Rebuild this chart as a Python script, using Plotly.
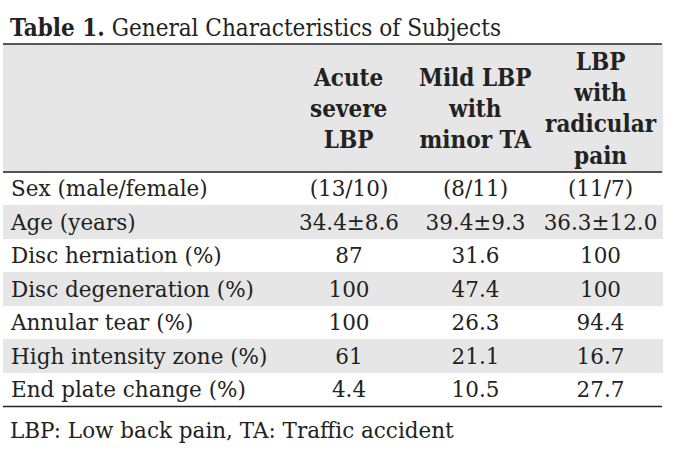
import plotly.graph_objects as go

# table content
row_labels = ["Sex (male/female)", "Age (years)", "Disc herniation (%)",
              "Disc degeneration (%)", "Annular tear (%)",
              "High intensity zone (%)", "End plate change (%)"]
acute_severe = ["(13/10)", "34.4±8.6", "87", "100", "100", "61", "4.4"]
mild_minor_ta = ["(8/11)", "39.4±9.3", "31.6", "47.4", "26.3", "21.1", "10.5"]
radicular = ["(11/7)", "36.3±12.0", "100", "100", "94.4", "16.7", "27.7"]
group_names = ["Acute<br>severe<br>LBP", "Mild LBP<br>with<br>minor TA",
               "LBP<br>with<br>radicular<br>pain"]

title = "<b>Table 1.</b> General Characteristics of Subjects"
footnote = "LBP: Low back pain, TA: Traffic accident"

W, H = 684, 463
left, top = 3, 44
col_widths = [283, 126, 127, 123]
header_h = 128
row_h = 33.5
gray = "#e6e6e6"
ink = "#222222"
serif = "DejaVu Serif"

right = left + sum(col_widths)
table_bottom = top + header_h + row_h * len(row_labels)

row_fill = ["white" if i % 2 == 0 else gray for i in range(len(row_labels))]

fig = go.Figure(go.Table(
    domain=dict(x=[left / W, right / W], y=[0.02, 1 - top / H]),
    columnwidth=col_widths,
    header=dict(values=["", "", "", ""], height=header_h,
                fill_color=gray, line_color=gray,
                font=dict(family=serif, size=20, color=ink)),
    cells=dict(values=[row_labels, acute_severe, mild_minor_ta, radicular],
               height=row_h,
               align=["left", "center", "center", "center"],
               fill_color=[row_fill] * 4, line_color=[row_fill] * 4,
               font=dict(family=serif, size=21.5, color=ink)),
))

# group headers, centred in the header band of each column
x0 = left + col_widths[0]
for name, w in zip(group_names, col_widths[1:]):
    fig.add_annotation(x=(x0 + w / 2) / W, y=1 - (top + header_h / 2) / H,
                       xref="paper", yref="paper", text="<b>" + name + "</b>",
                       showarrow=False, xanchor="center", yanchor="middle",
                       align="center",
                       font=dict(family="DejaVu Serif Condensed", size=24, color=ink))
    x0 += w

fig.add_annotation(x=8 / W, y=1 - 27 / H, xref="paper", yref="paper",
                   text=title, showarrow=False, xanchor="left", yanchor="middle",
                   font=dict(family="DejaVu Serif Condensed", size=24, color=ink))
fig.add_annotation(x=8 / W, y=1 - 430 / H, xref="paper", yref="paper",
                   text=footnote, showarrow=False, xanchor="left", yanchor="middle",
                   font=dict(family=serif, size=21.5, color=ink))

# horizontal rules
for yy in [top, top + header_h, table_bottom]:
    fig.add_shape(type="line", xref="paper", yref="paper",
                  x0=left / W, x1=right / W, y0=1 - yy / H, y1=1 - yy / H,
                  line=dict(color=ink, width=1.5))

fig.update_layout(width=W, height=H, margin=dict(l=0, r=0, t=0, b=0),
                  paper_bgcolor="white", plot_bgcolor="white")

# drop the page's default 8px body margin so the figure sits at the window corner
fig.write_html("out.html", config={"displayModeBar": False},
               post_script="document.body.style.margin = '0';")
